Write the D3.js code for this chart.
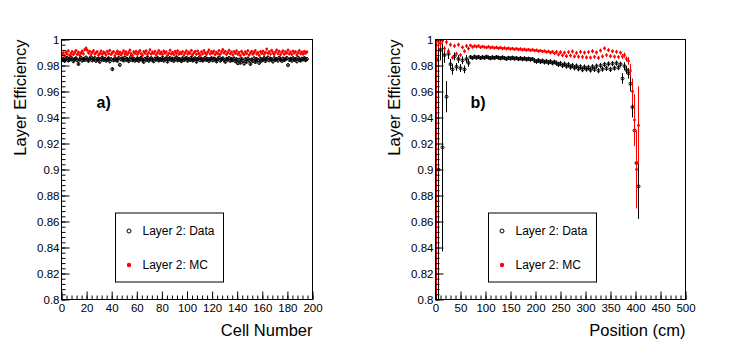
<!DOCTYPE html>
<html>
<head>
<meta charset="utf-8">
<script src="https://cdn.jsdelivr.net/npm/d3@7"></script>
<style>
  body { margin: 0; background: #fff; }
  svg { display: block; font-family: "Liberation Sans", Arial, Helvetica, sans-serif; }
</style>
</head>
<body>
<div id="chart"></div>
<script>
// two ROOT style panels: efficiency per cell (a) and per position (b)

const Y_TICKS = [0.8, 0.82, 0.84, 0.86, 0.88, 0.9, 0.92, 0.94, 0.96, 0.98, 1];
const Y_TICK_LABELS = ["0.8", "0.82", "0.84", "0.86", "0.88", "0.9", "0.92", "0.94", "0.96", "0.98", "1"];
const X_TICKS_A = [0, 20, 40, 60, 80, 100, 120, 140, 160, 180, 200];
const X_TICKS_B = [0, 50, 100, 150, 200, 250, 300, 350, 400, 450, 500];

const LEGEND_LABELS = ["Layer 2: Data", "Layer 2: MC"];

// panel a) : one value per cell (cell number = index)
const DATA_A = [
  0.9842,0.9851,0.9836,0.9847,0.9858,0.9839,0.9845,0.9862,0.9849,0.9833,0.9848,0.9855,0.9841,0.9812,0.9846,0.9859,0.9838,0.9850,0.9843,0.9861,
  0.9847,0.9836,0.9852,0.9864,0.9840,0.9849,0.9857,0.9835,0.9846,0.9853,0.9829,0.9848,0.9860,0.9842,0.9851,0.9838,0.9846,0.9855,0.9832,0.9849,
  0.9772,0.9840,0.9852,0.9845,0.9836,0.9858,0.9805,0.9847,0.9853,0.9839,0.9861,0.9844,0.9850,0.9834,0.9847,0.9866,0.9841,0.9852,0.9838,0.9845,
  0.9855,0.9836,0.9849,0.9859,0.9842,0.9828,0.9851,0.9844,0.9862,0.9837,0.9848,0.9856,0.9841,0.9833,0.9853,0.9846,0.9858,0.9839,0.9850,0.9843,
  0.9860,0.9838,0.9847,0.9855,0.9831,0.9849,0.9857,0.9843,0.9852,0.9836,0.9848,0.9863,0.9840,0.9851,0.9845,0.9834,0.9856,0.9842,0.9849,0.9858,
  0.9837,0.9850,0.9844,0.9861,0.9839,0.9847,0.9855,0.9830,0.9848,0.9857,0.9841,0.9852,0.9838,0.9846,0.9859,0.9843,0.9851,0.9835,0.9849,0.9856,
  0.9840,0.9853,0.9846,0.9832,0.9850,0.9862,0.9838,0.9847,0.9855,0.9843,0.9829,0.9851,0.9845,0.9858,0.9836,0.9849,0.9841,0.9854,0.9833,0.9847,
  0.9818,0.9845,0.9822,0.9851,0.9837,0.9815,0.9848,0.9829,0.9853,0.9840,0.9812,0.9846,0.9835,0.9855,0.9827,0.9849,0.9841,0.9820,0.9852,0.9838,
  0.9846,0.9857,0.9834,0.9849,0.9861,0.9840,0.9852,0.9845,0.9831,0.9856,0.9843,0.9850,0.9838,0.9859,0.9847,0.9835,0.9853,0.9842,0.9849,0.9858,
  0.9803,0.9844,0.9851,0.9837,0.9856,0.9843,0.9849,0.9832,0.9860,0.9845,0.9838,0.9852,0.9847,0.9857,0.9841,0.9850
];
const MC_A = [
  0.9882,0.9897,0.9875,0.9904,0.9889,0.9912,0.9878,0.9893,0.9907,0.9884,0.9899,0.9915,0.9886,0.9902,0.9878,0.9895,0.9910,0.9889,0.9921,0.9934,
  0.9918,0.9896,0.9909,0.9883,0.9901,0.9914,0.9888,0.9897,0.9906,0.9879,0.9893,0.9911,0.9887,0.9903,0.9896,0.9880,0.9908,0.9892,0.9916,0.9885,
  0.9898,0.9906,0.9874,0.9893,0.9910,0.9887,0.9902,0.9881,0.9897,0.9913,0.9889,0.9904,0.9883,0.9899,0.9918,0.9891,0.9877,0.9905,0.9894,0.9909,
  0.9886,0.9901,0.9915,0.9890,0.9879,0.9907,0.9895,0.9912,0.9884,0.9898,0.9920,0.9888,0.9903,0.9893,0.9909,0.9881,0.9897,0.9914,0.9890,0.9902,
  0.9885,0.9911,0.9896,0.9904,0.9878,0.9893,0.9917,0.9889,0.9900,0.9884,0.9908,0.9895,0.9913,0.9887,0.9901,0.9891,0.9906,0.9880,0.9897,0.9912,
  0.9888,0.9903,0.9894,0.9916,0.9882,0.9899,0.9908,0.9886,0.9911,0.9893,0.9879,0.9905,0.9890,0.9914,0.9897,0.9884,0.9902,0.9919,0.9889,0.9906,
  0.9895,0.9910,0.9883,0.9901,0.9892,0.9915,0.9887,0.9904,0.9922,0.9896,0.9909,0.9885,0.9898,0.9917,0.9890,0.9903,0.9881,0.9907,0.9894,0.9912,
  0.9886,0.9900,0.9877,0.9909,0.9893,0.9883,0.9905,0.9891,0.9913,0.9880,0.9897,0.9908,0.9887,0.9902,0.9915,0.9889,0.9899,0.9878,0.9906,0.9893,
  0.9910,0.9885,0.9901,0.9926,0.9894,0.9907,0.9888,0.9916,0.9898,0.9884,0.9904,0.9919,0.9891,0.9909,0.9882,0.9900,0.9913,0.9887,0.9905,0.9896,
  0.9918,0.9889,0.9903,0.9885,0.9910,0.9897,0.9906,0.9881,0.9899,0.9914,0.9890,0.9902,0.9887,0.9908,0.9895,0.9904
];
const ERR_A_DATA = 0.0015;
const ERR_A_MC = 0.0012;

// panel b) : position bins in cm
const POS_B = [
  2,6,10,14,18,22,26,30,34,38,42,46,50,54,58,62,66,70,74,78,
  82,86,90,94,98,102,106,110,114,118,122,126,130,134,138,142,146,150,154,158,
  162,166,170,174,178,182,186,190,194,198,202,206,210,214,218,222,226,230,234,238,
  242,246,250,254,258,262,266,270,274,278,282,286,290,294,298,302,306,310,314,318,
  322,326,330,334,338,342,346,350,354,358,362,366,370,374,378,382,386,390,394,398,
  402,406
];
const DATA_B = [
  0.985,0.900,0.992,0.917,0.988,0.956,0.989,0.981,0.977,0.987,0.979,0.985,0.978,0.984,0.977,0.985,0.982,0.9865,0.9858,0.9868,
  0.9860,0.9866,0.9857,0.9864,0.9859,0.9867,0.9861,0.9856,0.9863,0.9858,0.9865,0.9860,0.9855,0.9862,0.9857,0.9851,0.9859,0.9854,0.9860,0.9853,
  0.9857,0.9850,0.9856,0.9849,0.9855,0.9847,0.9852,0.9846,0.9850,0.9838,0.9831,0.9840,0.9829,0.9836,0.9826,0.9833,0.9822,0.9830,0.9819,0.9827,
  0.9818,0.9808,0.9815,0.9800,0.9811,0.9795,0.9806,0.9788,0.9800,0.9782,0.9796,0.9775,0.9790,0.9768,0.9788,0.9772,0.9785,0.9765,0.9790,0.9770,
  0.9795,0.9760,0.9800,0.9772,0.9808,0.9778,0.9812,0.9770,0.9815,0.9780,0.9818,0.9784,0.9810,0.9700,0.9795,0.9765,0.9740,0.9660,0.9480,0.9300,
  0.9050,0.8870
];
const ERR_B_DATA = [
  0.015,0.100,0.008,0.080,0.006,0.012,0.004,0.004,0.004,0.003,0.003,0.003,0.003,0.003,0.003,0.003,0.003,0.0015,0.0015,0.0015,
  0.0015,0.0015,0.0015,0.0015,0.0015,0.0015,0.0015,0.0015,0.0015,0.0015,0.0015,0.0015,0.0015,0.0015,0.0015,0.0015,0.0015,0.0015,0.0015,0.0015,
  0.0015,0.0015,0.0015,0.0015,0.0015,0.0015,0.0015,0.0015,0.0015,0.0018,0.0018,0.0018,0.0018,0.0018,0.0018,0.0018,0.0018,0.0018,0.0018,0.0018,
  0.002,0.002,0.002,0.002,0.002,0.002,0.002,0.002,0.002,0.002,0.002,0.002,0.002,0.002,0.002,0.002,0.002,0.002,0.002,0.002,
  0.002,0.002,0.002,0.002,0.002,0.002,0.002,0.002,0.002,0.002,0.002,0.002,0.002,0.004,0.003,0.003,0.004,0.006,0.008,0.012,
  0.020,0.025
];
const MC_B = [
  0.900,0.998,0.997,0.999,0.993,0.998,0.991,0.996,0.986,0.995,0.989,0.996,0.988,0.994,0.991,0.995,0.993,0.9955,0.9942,0.9950,
  0.9944,0.9951,0.9940,0.9947,0.9942,0.9938,0.9945,0.9936,0.9941,0.9934,0.9940,0.9932,0.9938,0.9930,0.9935,0.9928,0.9933,0.9926,0.9931,0.9924,
  0.9930,0.9922,0.9927,0.9920,0.9925,0.9918,0.9923,0.9916,0.9921,0.9914,0.9918,0.9910,0.9915,0.9907,0.9912,0.9903,0.9909,0.9898,0.9906,0.9894,
  0.9905,0.9884,0.9902,0.9878,0.9898,0.9872,0.9903,0.9876,0.9908,0.9870,0.9897,0.9868,0.9905,0.9866,0.9899,0.9862,0.9903,0.9860,0.9910,0.9867,
  0.9900,0.9858,0.9915,0.9870,0.9932,0.9880,0.9918,0.9872,0.9910,0.9868,0.9905,0.9865,0.9898,0.9870,0.9880,0.9850,0.9835,0.9760,0.9600,0.9380,
  0.9000,0.9340
];
const ERR_B_MC = [
  0.100,0.004,0.003,0.002,0.002,0.002,0.0015,0.0015,0.0015,0.0015,0.0015,0.0015,0.0015,0.0015,0.0015,0.0015,0.0015,0.0012,0.0012,0.0012,
  0.0012,0.0012,0.0012,0.0012,0.0012,0.0012,0.0012,0.0012,0.0012,0.0012,0.0012,0.0012,0.0012,0.0012,0.0012,0.0012,0.0012,0.0012,0.0012,0.0012,
  0.0012,0.0012,0.0012,0.0012,0.0012,0.0012,0.0012,0.0012,0.0012,0.0012,0.0012,0.0012,0.0012,0.0012,0.0012,0.0012,0.0012,0.0012,0.0012,0.0012,
  0.0015,0.0015,0.0015,0.0015,0.0015,0.0015,0.0015,0.0015,0.0015,0.0015,0.0015,0.0015,0.0015,0.0015,0.0015,0.0015,0.0015,0.0015,0.0015,0.0015,
  0.0015,0.0015,0.0015,0.0015,0.0015,0.0015,0.0015,0.0015,0.0015,0.0015,0.0015,0.0015,0.0015,0.002,0.002,0.002,0.003,0.005,0.010,0.020,
  0.030,0.030
];

const svg = d3.select("#chart").append("svg")
  .attr("width", 747).attr("height", 356);
svg.append("rect").attr("width", 747).attr("height", 356).attr("fill", "#fff");

function drawPanel(p) {
  const { x0, x1, y0, y1 } = p.frame;
  const x = d3.scaleLinear().domain(p.xDomain).range([x0, x1]);
  const y = d3.scaleLinear().domain([0.8, 1]).range([y1, y0]);
  const g = svg.append("g");

  const clipId = "clip-" + p.id;
  svg.append("clipPath").attr("id", clipId)
    .append("rect").attr("x", x0).attr("y", y0).attr("width", x1 - x0).attr("height", y1 - y0);
  const plot = g.append("g").attr("clip-path", `url(#${clipId})`);

  // data series: open circles with error bars, then MC red dots
  const series = [
    { pts: p.data, col: "#000", open: true },
    { pts: p.mc, col: "#ff0000", open: false }
  ];
  series.forEach(s => {
    plot.selectAll(null).data(s.pts).enter().append("line")
      .attr("x1", d => x(d.x)).attr("x2", d => x(d.x))
      .attr("y1", d => y(d.v - d.e)).attr("y2", d => y(d.v + d.e))
      .attr("stroke", s.col).attr("stroke-width", 1);
    plot.selectAll(null).data(s.pts).enter().append("circle")
      .attr("cx", d => x(d.x)).attr("cy", d => y(d.v))
      .attr("r", s.open ? 1.5 : 1.4)
      .attr("fill", s.open ? "none" : s.col)
      .attr("stroke", s.open ? s.col : "none").attr("stroke-width", 1);
  });

  // frame
  g.append("rect").attr("x", x0).attr("y", y0).attr("width", x1 - x0).attr("height", y1 - y0)
    .attr("fill", "none").attr("stroke", "#000").attr("stroke-width", 1);

  // y axis, ticks inside
  g.append("g").attr("transform", `translate(${x0},0)`)
    .call(d3.axisLeft(y).tickValues(d3.range(0.8, 1.0001, 0.004)).tickSize(-4).tickFormat(""))
    .call(ax => ax.select(".domain").remove());
  g.append("g").attr("transform", `translate(${x0},0)`)
    .call(d3.axisLeft(y).tickValues(Y_TICKS).tickSize(-8).tickPadding(2)
      .tickFormat((d, i) => Y_TICK_LABELS[i]))
    .call(ax => { ax.select(".domain").remove();
      ax.selectAll("text").style("font-size", "11.5px").style("font-family", null).attr("fill", "#000"); });

  // x axis, ticks inside
  g.append("g").attr("transform", `translate(0,${y1})`)
    .call(d3.axisBottom(x).tickValues(d3.range(p.xDomain[0], p.xDomain[1] + 0.001, p.minor)).tickSize(-4).tickFormat(""))
    .call(ax => ax.select(".domain").remove());
  g.append("g").attr("transform", `translate(0,${y1})`)
    .call(d3.axisBottom(x).tickValues(p.xTicks).tickSize(-8).tickPadding(4).tickFormat(d => d))
    .call(ax => { ax.select(".domain").remove();
      ax.selectAll("text").style("font-size", "11.5px").style("font-family", null).attr("fill", "#000"); });
  g.selectAll(".tick line").attr("stroke", "#000");

  // axis titles
  g.append("text").attr("transform", `translate(${x0 - 36},${y0}) rotate(-90)`)
    .attr("text-anchor", "end").style("font-size", "16.5px").text("Layer Efficiency");
  g.append("text").attr("x", x1).attr("y", y1 + 36).attr("text-anchor", "end")
    .style("font-size", "16.5px").text(p.xTitle);

  // panel tag
  g.append("text").attr("x", x0 + p.tagDx).attr("y", 108)
    .style("font-size", "16px").style("font-weight", "bold").text(p.tag);

  // legend
  const lx = x0 + p.legDx, ly = 213;
  g.append("rect").attr("x", lx).attr("y", ly).attr("width", 108).attr("height", 69)
    .attr("fill", "#fff").attr("stroke", "#000").attr("stroke-width", 1);
  g.append("circle").attr("cx", lx + 13.5).attr("cy", ly + 18).attr("r", 2)
    .attr("fill", "none").attr("stroke", "#000").attr("stroke-width", 1);
  g.append("circle").attr("cx", lx + 13.5).attr("cy", ly + 52).attr("r", 2.2).attr("fill", "#ff0000");
  g.append("text").attr("x", lx + 27).attr("y", ly + 22).style("font-size", "12px").text(LEGEND_LABELS[0]);
  g.append("text").attr("x", lx + 27).attr("y", ly + 56).style("font-size", "12px").text(LEGEND_LABELS[1]);
}

drawPanel({
  id: "a", frame: { x0: 61.5, x1: 312.5, y0: 39.5, y1: 299.5 },
  xDomain: [0, 200], xTicks: X_TICKS_A, minor: 4, xTitle: "Cell Number",
  tag: "a)", tagDx: 35, legDx: 54,
  data: DATA_A.map((v, i) => ({ x: i + 0.5, v, e: ERR_A_DATA })),
  mc: MC_A.map((v, i) => ({ x: i + 0.5, v, e: ERR_A_MC }))
});

drawPanel({
  id: "b", frame: { x0: 435.5, x1: 685.5, y0: 39.5, y1: 299.5 },
  xDomain: [0, 500], xTicks: X_TICKS_B, minor: 10, xTitle: "Position (cm)",
  tag: "b)", tagDx: 35, legDx: 53,
  data: DATA_B.map((v, i) => ({ x: POS_B[i], v, e: ERR_B_DATA[i] })),
  mc: MC_B.map((v, i) => ({ x: POS_B[i], v, e: ERR_B_MC[i] }))
});
</script>
</body>
</html>
